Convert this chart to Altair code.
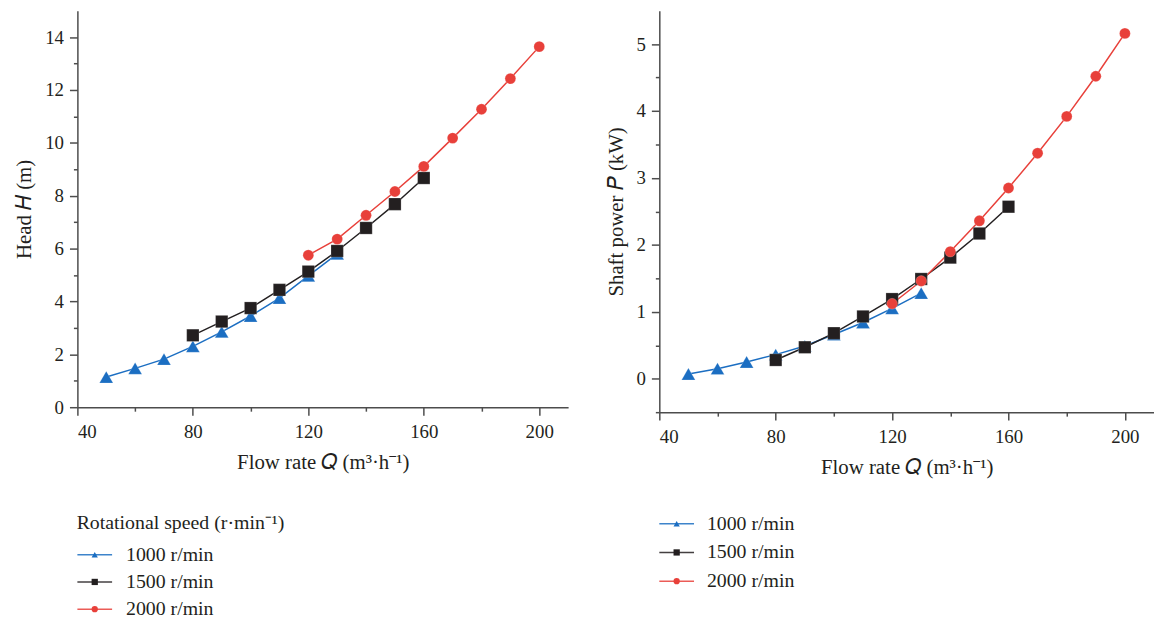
import altair as alt
import pandas as pd

FONT = "Liberation Serif"
TXT = "#231f20"
AXC = "#4d4d4d"

speeds = ["1000 r/min", "1500 r/min", "2000 r/min"]
colors = ["#1b6ec2", "#231f20", "#e8403a"]
shapes = ["triangle-up", "square", "circle"]
sizes = [190, 120, 165]

q_1000 = [50, 60, 70, 80, 90, 100, 110, 120, 130]
q_1500 = [80, 90, 100, 110, 120, 130, 140, 150, 160]
q_2000 = [120, 130, 140, 150, 160, 170, 180, 190, 200]

head_1000 = [1.14, 1.47, 1.82, 2.30, 2.85, 3.45, 4.13, 4.97, 5.80]
head_1500 = [2.72, 3.24, 3.75, 4.44, 5.13, 5.91, 6.78, 7.68, 8.67]
head_2000 = [5.75, 6.36, 7.26, 8.16, 9.11, 10.18, 11.27, 12.43, 13.64]

power_1000 = [0.07, 0.15, 0.25, 0.36, 0.49, 0.66, 0.84, 1.05, 1.28]
power_1500 = [0.28, 0.47, 0.68, 0.93, 1.19, 1.49, 1.81, 2.17, 2.57]
power_2000 = [1.12, 1.46, 1.90, 2.36, 2.85, 3.37, 3.92, 4.52, 5.16]

x_ticks = [40, 80, 120, 160, 200]
x_minor = [60, 100, 140, 180]
head_ticks = [0, 2, 4, 6, 8, 10, 12, 14]
head_minor = [1, 3, 5, 7, 9, 11, 13]
power_ticks = [0, 1, 2, 3, 4, 5]
power_minor = [-0.5, 0.5, 1.5, 2.5, 3.5, 4.5]

x_title = "Flow rate 𝑄 (m³·h⁻¹)"
head_title = "Head 𝐻 (m)"
power_title = "Shaft power 𝑃 (kW)"
legend_title = "Rotational speed (r·min⁻¹)"

rows = []
for sp, qs, hs, ps in [(speeds[0], q_1000, head_1000, power_1000),
                       (speeds[1], q_1500, head_1500, power_1500),
                       (speeds[2], q_2000, head_2000, power_2000)]:
    for q, h, p in zip(qs, hs, ps):
        rows.append({"Q": q, "H": h, "P": p, "speed": sp})
df = pd.DataFrame(rows)

color = alt.Color("speed:N", scale=alt.Scale(domain=speeds, range=colors), legend=None)
shape = alt.Shape("speed:N", scale=alt.Scale(domain=speeds, range=shapes), legend=None)
size = alt.Size("speed:N", scale=alt.Scale(domain=speeds, range=sizes), legend=None)

axis_common = dict(domainColor=AXC, tickColor=AXC, domainWidth=1.5, tickWidth=1.5,
                   labelFont=FONT, labelFontSize=19, labelColor=TXT,
                   titleFont=FONT, titleFontSize=21, titleColor=TXT, titleFontWeight="normal",
                   grid=False)


def panel(field, ytitle, ydom, yticks, yminor, w, h):
    xs = alt.Scale(domain=[40, 210], nice=False, zero=False)
    ys = alt.Scale(domain=ydom, nice=False, zero=False)
    x = alt.X("Q:Q", scale=xs, axis=alt.Axis(values=x_ticks, title=x_title, orient="bottom",
                                             tickSize=8, labelPadding=8, titlePadding=10, **axis_common))
    y = alt.Y(f"{field}:Q", scale=ys, axis=alt.Axis(values=yticks, title=ytitle, orient="left",
                                                     tickSize=8, labelPadding=6, titlePadding=10, **axis_common))
    xm = alt.X("Q:Q", scale=xs, axis=alt.Axis(values=x_minor, labels=False, title=None, domain=False,
                                              orient="bottom", tickSize=4, tickColor=AXC, tickWidth=1.5, grid=False))
    ym = alt.Y(f"{field}:Q", scale=ys, axis=alt.Axis(values=yminor, labels=False, title=None, domain=False,
                                                     orient="left", tickSize=4, tickColor=AXC, tickWidth=1.5, grid=False))
    base = alt.Chart(df)
    lines = base.mark_line(strokeWidth=1.5).encode(x=x, y=y, color=color, detail="speed:N")
    minor = base.mark_line(opacity=0).encode(x=xm, y=ym, detail="speed:N")
    points = base.mark_point(filled=True, opacity=1, stroke="white", strokeWidth=0.5, strokeOpacity=0.4).encode(
        x=alt.X("Q:Q", scale=xs, axis=None), y=alt.Y(f"{field}:Q", scale=ys, axis=None),
        color=color, shape=shape, size=size)
    return alt.layer(lines, minor, points).resolve_axis(x="independent", y="independent").properties(width=w, height=h)


def legend(title, step, text_x):
    leg = pd.DataFrame({"speed": speeds})
    y = alt.Y("speed:N", scale=alt.Scale(domain=speeds, type="point", padding=0.5), axis=None)
    b = alt.Chart(leg)
    rule = b.mark_rule(strokeWidth=1.5, opacity=0.85).encode(x=alt.value(0), x2=alt.value(35), y=y, color=color)
    pts = b.mark_point(filled=True, size=40, opacity=1).encode(x=alt.value(17.5), y=y, color=color, shape=shape)
    txt = b.mark_text(align="left", baseline="middle", font=FONT, fontSize=20, color=TXT).encode(
        x=alt.value(text_x), y=y, text="speed:N")
    ch = alt.layer(rule, pts, txt).properties(width=300, height=3 * step)
    if title:
        ch = ch.properties(title=alt.TitleParams(title, anchor="start", font=FONT, fontSize=20,
                                                 fontWeight="normal", color=TXT, offset=8))
    return ch


left = panel("H", head_title, [0, 15], head_ticks, head_minor, 495, 400)
right = panel("P", power_title, [-0.5, 5.5], power_ticks, power_minor, 499, 405)

left_col = alt.vconcat(left, legend(legend_title, 27.5, 49), spacing=41)
right_col = alt.vconcat(right, legend(None, 29, 48), spacing=32)

chart = alt.hconcat(left_col, right_col, spacing=37).properties(
    padding={"left": 6, "top": 0, "right": 0, "bottom": 0}).configure_view(stroke=None)

chart.save("out.html", embed_options={"renderer": "svg", "actions": False})
